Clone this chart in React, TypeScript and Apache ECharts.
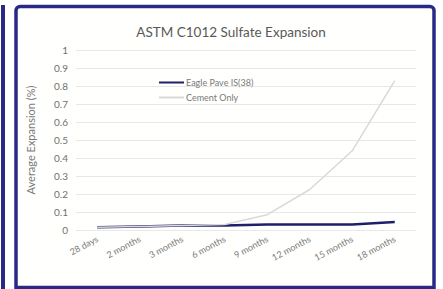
import React, { useEffect, useRef } from "react";
import * as echarts from "echarts";

const categories = ["28 days", "2 months", "3 months", "6 months", "9 months", "12 months", "15 months", "18 months"];
const eaglePave = [0.015, 0.02, 0.025, 0.025, 0.03, 0.03, 0.03, 0.045];
const cementOnly = [0.015, 0.02, 0.025, 0.03, 0.085, 0.225, 0.44, 0.83];
const seriesNames = ["Eagle Pave IS(38)", "Cement Only"];
const titleText = "ASTM C1012 Sulfate Expansion";
const yAxisName = "Average Expansion (%)";

export default function App() {
  const ref = useRef<HTMLDivElement>(null);
  useEffect(() => {
    if (!ref.current) return;
    const chart = echarts.init(ref.current, undefined, { renderer: "svg" });
    const font = "Lato, 'Open Sans', sans-serif";
    chart.setOption({
      animation: false,
      backgroundColor: "#ffffff",
      graphic: [
        {
          type: "rect",
          z: -10,
          shape: { x: 1, y: 5, width: 4, height: 284 },
          style: { fill: "#2a2a86" },
          silent: true,
        },
        {
          type: "rect",
          z: -10,
          shape: { x: 16, y: 6.5, width: 418, height: 281, r: [4, 4, 0, 0] },
          style: { fill: "#fffffd", stroke: "#2a2a86", lineWidth: 3.5 },
          silent: true,
        },
      ],
      title: {
        text: titleText,
        left: 226,
        textAlign: "center",
        top: 20,
        textStyle: { fontFamily: font, fontSize: 13.5, fontWeight: "normal", color: "#595959" },
      },
      legend: {
        orient: "vertical",
        left: 153,
        top: 73,
        itemWidth: 25,
        itemHeight: 8,
        itemGap: 6,
        itemStyle: { opacity: 0 },
        textStyle: { fontFamily: font, fontSize: 9, color: "#7a7a7a", padding: [0, 0, 0, -3] },
        data: seriesNames,
      },
      grid: { left: 76, right: 27, top: 50, bottom: 59 },
      xAxis: {
        type: "category",
        data: categories,
        boundaryGap: true,
        axisLine: { show: false },
        axisTick: { show: false },
        axisLabel: { rotate: 28, fontFamily: font, fontSize: 9, color: "#7a7a7a", margin: 8, interval: 0 },
      },
      yAxis: {
        type: "value",
        min: 0,
        max: 1,
        interval: 0.1,
        name: yAxisName,
        nameLocation: "middle",
        nameGap: 40,
        nameTextStyle: { fontFamily: font, fontSize: 11, color: "#7a7a7a" },
        axisLine: { show: false },
        axisTick: { show: false },
        axisLabel: { fontFamily: font, fontSize: 10, color: "#707070", margin: 8 },
        splitLine: { lineStyle: { color: "#e8e8e8", width: 1 } },
      },
      series: [
        {
          name: seriesNames[0],
          type: "line",
          data: eaglePave,
          symbol: "none",
          z: 2,
          lineStyle: { color: "#1f1f6b", width: 2.5 },
          itemStyle: { color: "#1f1f6b" },
        },
        {
          name: seriesNames[1],
          type: "line",
          data: cementOnly,
          symbol: "none",
          z: 3,
          lineStyle: { color: "#d9d9d9", width: 1.5 },
          itemStyle: { color: "#d9d9d9" },
        },
      ],
    });
    return () => chart.dispose();
  }, []);
  return <div ref={ref} style={{ position: "fixed", left: 0, top: 0, width: 443, height: 289 }} />;
}
